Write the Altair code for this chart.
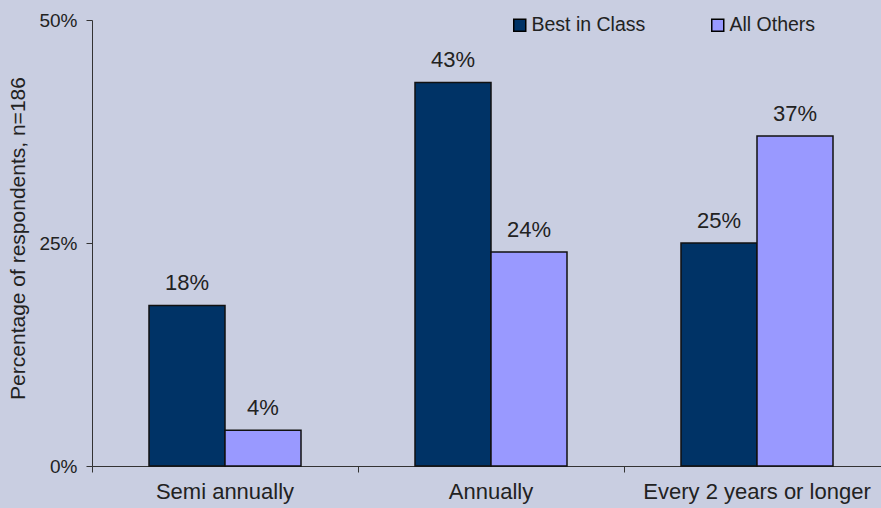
import altair as alt
import pandas as pd

categories = ["Semi annually", "Annually", "Every 2 years or longer"]
series = ["Best in Class", "All Others"]
best_in_class = [0.18, 0.43, 0.25]
all_others = [0.04, 0.24, 0.37]
y_ticks = [0, 0.25, 0.5]

rows = []
for c, b, o in zip(categories, best_in_class, all_others):
    rows.append({"category": c, "series": series[0], "value": b})
    rows.append({"category": c, "series": series[1], "value": o})
df = pd.DataFrame(rows)

FONT = "Liberation Sans"
TXT = "#222222"

x = alt.X(
    "category:N",
    sort=categories,
    scale=alt.Scale(paddingInner=0, paddingOuter=0),
    axis=alt.Axis(
        title=None,
        labelAngle=0,
        labelFontSize=22,
        labelFont=FONT,
        labelColor=TXT,
        labelPadding=9,
        labelLimit=0,
        bandPosition=0,
        tickSize=6,
        tickColor="#333333",
        domainColor="#333333",
    ),
)
xoff = alt.XOffset(
    "series:N",
    sort=series,
    scale=alt.Scale(domain=series, paddingOuter=0.75, paddingInner=0),
)
y = alt.Y(
    "value:Q",
    scale=alt.Scale(domain=[0, 0.5], nice=False),
    axis=alt.Axis(
        title="Percentage of respondents, n=186",
        titleFontSize=21,
        titleFont=FONT,
        titleFontWeight="normal",
        titleColor=TXT,
        titleX=-74,
        titleY=218,
        titleAngle=-90,
        titleBaseline="middle",
        values=y_ticks,
        format=".0%",
        labelFontSize=19,
        labelFont=FONT,
        labelColor=TXT,
        labelPadding=9,
        tickSize=6,
        tickColor="#333333",
        domainColor="#333333",
        grid=False,
    ),
)
color = alt.Color(
    "series:N",
    sort=series,
    scale=alt.Scale(domain=series, range=["#003366", "#9999FF"]),
    legend=alt.Legend(
        title=None,
        orient="none",
        legendX=418,
        legendY=-5,
        direction="horizontal",
        symbolType="square",
        symbolSize=144,
        symbolStrokeColor="#000000",
        symbolStrokeWidth=1.5,
        symbolOpacity=1,
        labelFontSize=19.5,
        labelFont=FONT,
        labelColor=TXT,
        labelOffset=2,
        columnPadding=62,
    ),
)

bars = alt.Chart(df).mark_bar(stroke="#111111", strokeWidth=1.5, opacity=1).encode(
    x=x, xOffset=xoff, y=y, color=color
)
labels = alt.Chart(df).mark_text(
    dy=-15, baseline="alphabetic", fontSize=22, font=FONT, color=TXT
).encode(
    x=alt.X("category:N", sort=categories),
    xOffset=alt.XOffset("series:N", sort=series),
    y="value:Q",
    text=alt.Text("value:Q", format=".0%"),
)

chart = (
    alt.layer(bars, labels)
    .properties(
        width=798,
        height=446,
        background="#C9CEE1",
        autosize=alt.AutoSizeParams(type="none"),
        padding={"left": 92, "top": 20, "right": -9, "bottom": 42},
    )
    .configure_view(stroke=None)
)

chart.save("out.html", embed_options={"renderer": "svg", "actions": False})
